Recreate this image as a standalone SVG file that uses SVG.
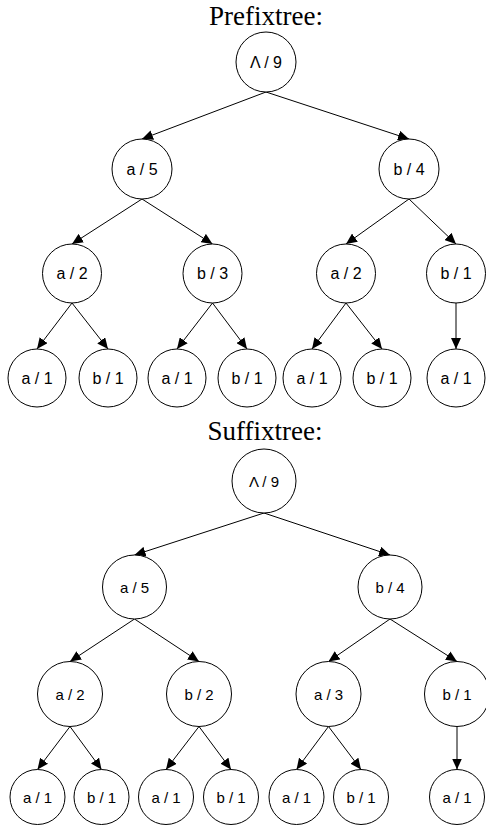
<svg xmlns="http://www.w3.org/2000/svg" width="486" height="825" viewBox="0 0 486 825">
<style>
.n circle{fill:#fff;stroke:#000;stroke-width:1}
.n text{font-family:"Liberation Sans",Arial,sans-serif;text-anchor:middle;dominant-baseline:central;fill:#000}
.p text{font-size:16px}
.s text{font-size:15px}
.t{font-family:"Liberation Serif","Times New Roman",serif;font-size:27px;text-anchor:middle;fill:#000}
.e line{stroke:#000;stroke-width:1;marker-end:url(#ah)}
</style>
<defs>
<marker id="ah" markerUnits="userSpaceOnUse" markerWidth="12" markerHeight="10" refX="11" refY="5" orient="auto">
<path d="M0,0 L11,5 L0,10 Z" fill="#000"/>
</marker>
</defs>
<rect width="486" height="825" fill="#fff"/>
<text class="t" x="266" y="25">Prefixtree:</text>
<text class="t" x="265" y="440">Suffixtree:</text>
<g id="edges" class="e">
<line x1="266" y1="92" x2="142" y2="139"/>
<line x1="266" y1="92" x2="409" y2="139"/>
<line x1="142" y1="199" x2="72" y2="244"/>
<line x1="142" y1="199" x2="212.5" y2="244"/>
<line x1="409" y1="199" x2="346" y2="244"/>
<line x1="409" y1="199" x2="456" y2="244"/>
<line x1="72" y1="303" x2="37" y2="349"/>
<line x1="72" y1="303" x2="108" y2="349"/>
<line x1="212.5" y1="303" x2="177" y2="349"/>
<line x1="212.5" y1="303" x2="247" y2="349"/>
<line x1="346" y1="303" x2="312" y2="349"/>
<line x1="346" y1="303" x2="382" y2="349"/>
<line x1="456" y1="303" x2="456" y2="349"/>
<line x1="264" y1="513" x2="134.5" y2="555"/>
<line x1="264" y1="513" x2="390" y2="555"/>
<line x1="134.5" y1="619" x2="70" y2="661.5"/>
<line x1="134.5" y1="619" x2="199" y2="661.5"/>
<line x1="390" y1="619" x2="328.5" y2="661.5"/>
<line x1="390" y1="619" x2="457" y2="661.5"/>
<line x1="70" y1="726.5" x2="37.5" y2="769.5"/>
<line x1="70" y1="726.5" x2="101.5" y2="769.5"/>
<line x1="199" y1="726.5" x2="166" y2="769.5"/>
<line x1="199" y1="726.5" x2="231" y2="769.5"/>
<line x1="328.5" y1="726.5" x2="296.5" y2="769.5"/>
<line x1="328.5" y1="726.5" x2="361" y2="769.5"/>
<line x1="457" y1="726.5" x2="457" y2="769.5"/>
</g>
<g id="p_root" class="n p"><circle cx="266" cy="62" r="30"/><text x="266" y="62">Λ / 9</text></g>
<g id="p_a" class="n p"><circle cx="142" cy="169" r="30"/><text x="142" y="169">a / 5</text></g>
<g id="p_b" class="n p"><circle cx="409" cy="169" r="30"/><text x="409" y="169">b / 4</text></g>
<g id="p_aa" class="n p"><circle cx="72" cy="273.5" r="29.5"/><text x="72" y="273.5">a / 2</text></g>
<g id="p_ab" class="n p"><circle cx="212.5" cy="273.5" r="29.5"/><text x="212.5" y="273.5">b / 3</text></g>
<g id="p_ba" class="n p"><circle cx="346" cy="273.5" r="29.5"/><text x="346" y="273.5">a / 2</text></g>
<g id="p_bb" class="n p"><circle cx="456" cy="273.5" r="29.5"/><text x="456" y="273.5">b / 1</text></g>
<g id="p_aaa" class="n p"><circle cx="37" cy="378" r="29"/><text x="37" y="378">a / 1</text></g>
<g id="p_aab" class="n p"><circle cx="108" cy="378" r="29"/><text x="108" y="378">b / 1</text></g>
<g id="p_aba" class="n p"><circle cx="177" cy="378" r="29"/><text x="177" y="378">a / 1</text></g>
<g id="p_abb" class="n p"><circle cx="247" cy="378" r="29"/><text x="247" y="378">b / 1</text></g>
<g id="p_baa" class="n p"><circle cx="312" cy="378" r="29"/><text x="312" y="378">a / 1</text></g>
<g id="p_bab" class="n p"><circle cx="382" cy="378" r="29"/><text x="382" y="378">b / 1</text></g>
<g id="p_bba" class="n p"><circle cx="456" cy="378" r="29"/><text x="456" y="378">a / 1</text></g>
<g id="s_root" class="n s"><circle cx="264" cy="481" r="32"/><text x="264" y="481">Λ / 9</text></g>
<g id="s_a" class="n s"><circle cx="134.5" cy="587" r="32"/><text x="134.5" y="587">a / 5</text></g>
<g id="s_b" class="n s"><circle cx="390" cy="587" r="32"/><text x="390" y="587">b / 4</text></g>
<g id="s_aa" class="n s"><circle cx="70" cy="694" r="32.5"/><text x="70" y="694">a / 2</text></g>
<g id="s_ab" class="n s"><circle cx="199" cy="694" r="32.5"/><text x="199" y="694">b / 2</text></g>
<g id="s_ba" class="n s"><circle cx="328.5" cy="694" r="32.5"/><text x="328.5" y="694">a / 3</text></g>
<g id="s_bb" class="n s"><circle cx="457" cy="694" r="32.5"/><text x="457" y="694">b / 1</text></g>
<g id="s_aaa" class="n s"><circle cx="37.5" cy="797" r="27.5"/><text x="37.5" y="797">a / 1</text></g>
<g id="s_aab" class="n s"><circle cx="101.5" cy="797" r="27.5"/><text x="101.5" y="797">b / 1</text></g>
<g id="s_aba" class="n s"><circle cx="166" cy="797" r="27.5"/><text x="166" y="797">a / 1</text></g>
<g id="s_abb" class="n s"><circle cx="231" cy="797" r="27.5"/><text x="231" y="797">b / 1</text></g>
<g id="s_baa" class="n s"><circle cx="296.5" cy="797" r="27.5"/><text x="296.5" y="797">a / 1</text></g>
<g id="s_bab" class="n s"><circle cx="361" cy="797" r="27.5"/><text x="361" y="797">b / 1</text></g>
<g id="s_bba" class="n s"><circle cx="457" cy="797" r="27.5"/><text x="457" y="797">a / 1</text></g>
</svg>
